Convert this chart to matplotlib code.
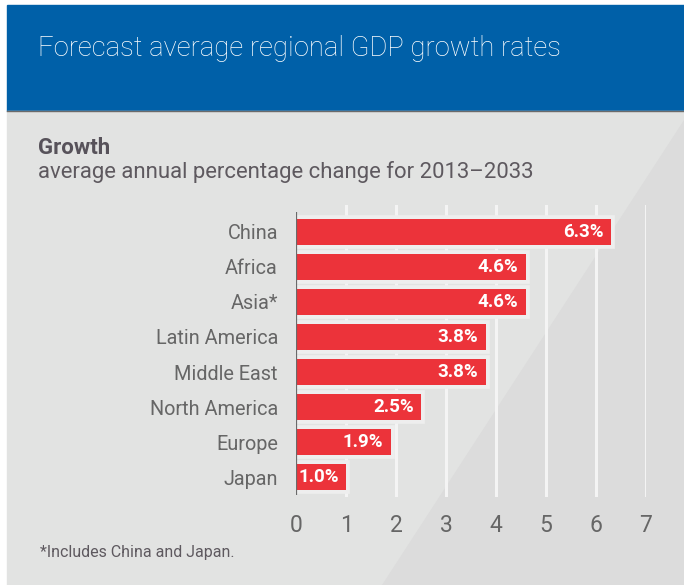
import matplotlib.pyplot as plt
from matplotlib.patches import Rectangle, Polygon

# data
regions = ["China", "Africa", "Asia*", "Latin America", "Middle East",
           "North America", "Europe", "Japan"]
growth = [6.3, 4.6, 4.6, 3.8, 3.8, 2.5, 1.9, 1.0]
labels = ["6.3%", "4.6%", "4.6%", "3.8%", "3.8%", "2.5%", "1.9%", "1.0%"]
xticks = [0, 1, 2, 3, 4, 5, 6, 7]

W, H = 684, 585
BLUE = "#0060a8"
RED = "#ec333a"
TXT = "#5e595f"
FONT = ["Roboto", "DejaVu Sans"]


def fx(px):
    return px / W


def fy(py):
    # pixel from top -> figure coords
    return 1 - py / H


fig = plt.figure(figsize=(W / 100, H / 100), dpi=100)
fig.patch.set_facecolor("white")

# background blocks
fig.patches.append(Rectangle((fx(7), fy(111)), 1, fy(5) - fy(111),
                             transform=fig.transFigure, color=BLUE, zorder=-10))
fig.patches.append(Rectangle((fx(7), 0), 1, fy(111),
                             transform=fig.transFigure, color="#e2e3e2", zorder=-10))
fig.patches.append(Polygon([(fx(684), fy(120)), (fx(684), 0), (fx(382), 0)],
                           closed=True, transform=fig.transFigure,
                           color="#dcdcdc", zorder=-9))
fig.lines.append(plt.Line2D([fx(7), 1], [fy(111), fy(111)],
                            transform=fig.transFigure, color="#6b6b6b", lw=1,
                            zorder=-8))

# texts
fig.text(fx(38), fy(48), "Forecast average regional GDP growth rates",
         color="white", fontsize=19.8, fontweight="light", family=FONT,
         va="center", ha="left")
fig.text(fx(38), fy(148), "Growth", color="#57525a", fontsize=16,
         fontweight="bold", family=FONT, va="center", ha="left")
fig.text(fx(38), fy(172), "average annual percentage change for 2013\u20132033",
         color=TXT, fontsize=15.9, family=FONT, va="center", ha="left")
fig.text(fx(40), fy(552), "*Includes China and Japan.", color=TXT,
         fontsize=11.5, family=FONT, va="center", ha="left")

ax = fig.add_axes([fx(296), fy(497), fx(646) - fx(296), fy(205) - fy(497)])
ax.patch.set_alpha(0)

ypos = [len(regions) - 1 - i for i in range(len(regions))]

for x in xticks[1:]:
    ax.axvline(x, color="#f4f4f4", lw=2.2, zorder=1)

# light backing under each bar
ax.barh(ypos, growth, height=0.72, color="#eeeeee", edgecolor="#eeeeee",
        linewidth=5.5, zorder=2)
ax.barh(ypos, growth, height=0.72, color=RED, linewidth=0, zorder=3)

for y, v, lab in zip(ypos, growth, labels):
    ax.text(v - 0.15, y, lab, color="white", fontsize=13.5, fontweight="bold",
            family=FONT, ha="right", va="center", zorder=4)

ax.vlines(0, -0.51, 7.57, color="#6a6a6a", lw=1.6, zorder=5)

ax.set_xlim(0, 7)
ax.set_ylim(-0.57, 7.77)
ax.set_xticks(xticks)
ax.set_xticklabels([str(t) for t in xticks])
ax.set_yticks(ypos)
ax.set_yticklabels(regions)
ax.tick_params(length=0)
ax.tick_params(axis="x", pad=12, labelsize=16.5, labelcolor="#666")
ax.tick_params(axis="y", pad=13, labelsize=14.3, labelcolor="#666")
for t in ax.get_xticklabels() + ax.get_yticklabels():
    t.set_family(FONT)
for s in ax.spines.values():
    s.set_visible(False)

fig.savefig("out.png", dpi=100)
